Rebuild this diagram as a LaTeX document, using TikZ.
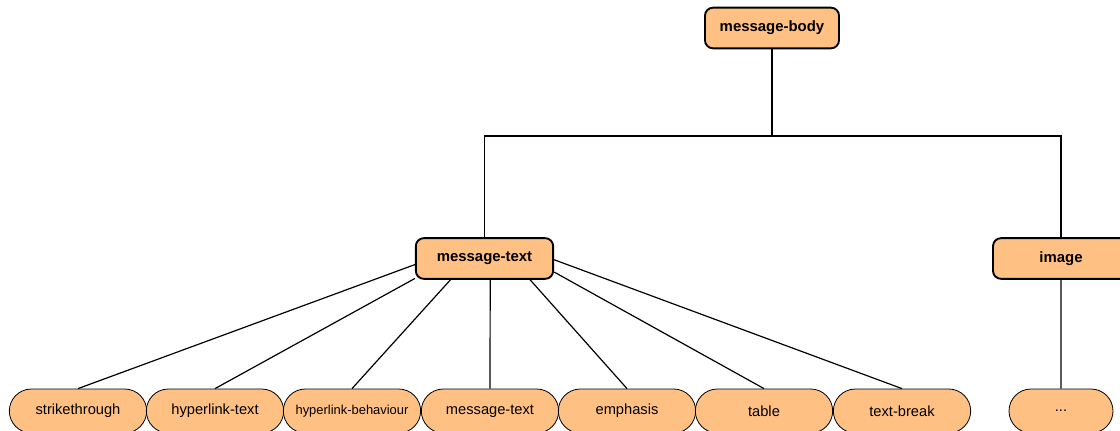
\documentclass[tikz,border=0pt]{standalone}
\usepackage{fontspec}
\setmainfont{Liberation Sans}
\usepackage{xcolor}
\usetikzlibrary{shapes.misc,calc}
\definecolor{boxfill}{HTML}{FFC183}

\tikzset{
  topbox/.style={draw, line width=1.4pt, rounded corners=6pt, fill=boxfill,
    minimum height=30.5pt, inner sep=2pt, font=\bfseries\fontsize{11.2}{13}\selectfont},
  leafpill/.style={draw, rounded rectangle, line width=0.6pt, fill=boxfill,
    minimum width=107pt, minimum height=33pt, inner sep=2pt, font=\fontsize{11}{13}\selectfont},
  link/.style={line width=0.9pt}
}

\begin{document}
\begin{tikzpicture}[x=0.75pt, y=-0.75pt]
    \useasboundingbox (0,0) rectangle (1120,430);

    \node[topbox, minimum width=100.5pt] (body) at (772,28) {message-body};
    \node[topbox, minimum width=103pt] (mt) at (484.5,258.5) {message-text};
    \node[topbox, minimum width=102pt] (img) at (1061,258.5) {image};

    \node[leafpill] (strike) at (78,411) {strikethrough};
    \node[leafpill] (hltext) at (215,411) {hyperlink-text};
    \node[leafpill, font=\fontsize{9.7}{11}\selectfont] (hlbeh) at (352,411) {hyperlink-behaviour};
    \node[leafpill] (mtx) at (490,411) {message-text};
    \node[leafpill] (emph) at (627,411) {emphasis};
    \node[leafpill] (tab) at (764,411) {table};
    \node[leafpill] (tbreak) at (902,411) {text-break};
    \node[leafpill, minimum width=82pt] (more) at (1061,411) {...};

    % Baum oben
    \coordinate (junc) at (772,136);
    \draw[link] (body) -- (junc);
    \draw[link] (junc) -| (mt.north);
    \draw[link] (junc) -| (img.north);
    \draw[link] (img) -- (more);

    % Kinder von message-text
    \draw[link] (mt.185) -- (strike.north);
    \draw[link] (mt.196) -- (hltext.north);
    \draw[link] (mt.212) -- (hlbeh.north);
    \draw[link] (mt.285) -- (mtx.north);
    \draw[link] (mt.335) -- (emph.north);
    \draw[link] (mt.349) -- (tab.north);
    \draw[link] (mt.359) -- (tbreak.north);
\end{tikzpicture}
\end{document}
